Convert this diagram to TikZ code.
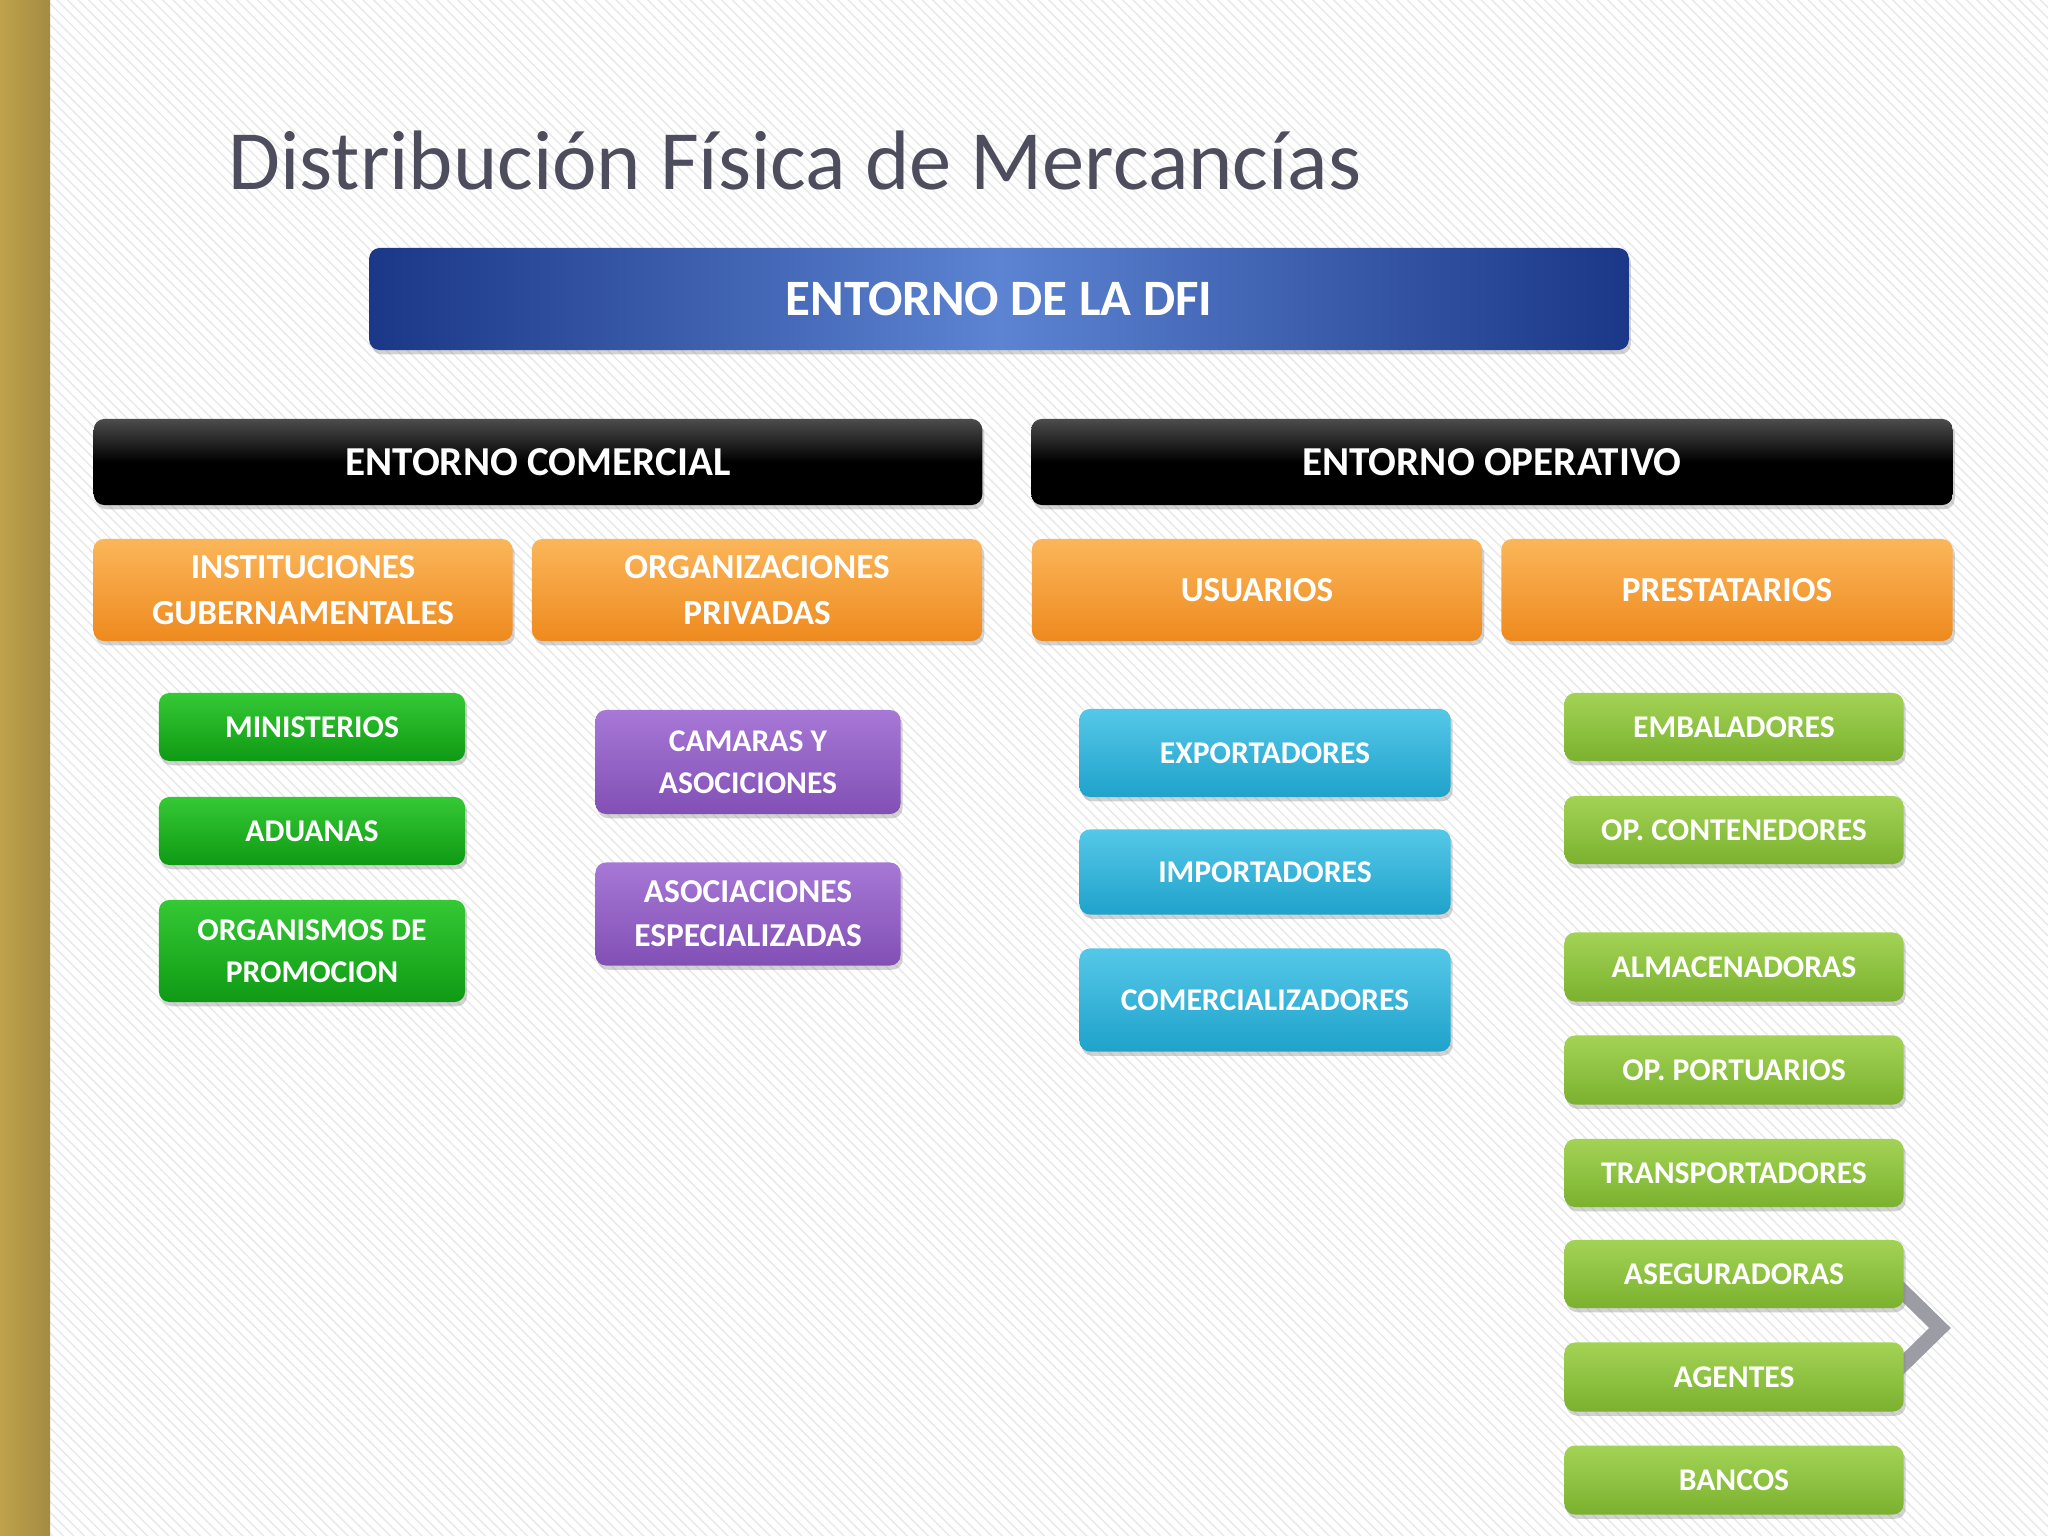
\documentclass[tikz,border=0pt]{standalone}
\usepackage{fontspec}
\setmainfont{Carlito}
\usetikzlibrary{shadows,patterns}

\definecolor{titlegray}{HTML}{4D4D5E}
\definecolor{goldleft}{HTML}{BFA24A}
\definecolor{goldlight}{HTML}{E2C465}
\definecolor{goldright}{HTML}{A38B43}
\definecolor{navy}{HTML}{1B3787}
\definecolor{skyblue}{HTML}{5C84D2}
\definecolor{chevgray}{HTML}{9C9CA4}

\begin{document}
\begin{tikzpicture}[x=0.01cm, y=-0.01cm,
	box/.style={rounded corners=3pt, text=white, align=center, inner sep=0pt,
		font=\bfseries\fontsize{9}{12}\selectfont,
		drop shadow={shadow xshift=0.6pt, shadow yshift=-1.2pt, opacity=0.35}},
	bluebox/.style={box, left color=navy, right color=navy, middle color=skyblue,
		font=\bfseries\fontsize{14.5}{17}\selectfont},
	blackbox/.style={box, top color=black!70, bottom color=black, middle color=black,
		font=\bfseries\fontsize{11.7}{14}\selectfont},
	orangebox/.style={box, top color={rgb,255:red,251;green,182;blue,90}, bottom color={rgb,255:red,238;green,138;blue,30},
		font=\bfseries\fontsize{10}{13}\selectfont},
	greenbox/.style={box, top color={rgb,255:red,53;green,201;blue,53}, bottom color={rgb,255:red,15;green,154;blue,20}},
	purplebox/.style={box, top color={rgb,255:red,167;green,120;blue,214}, bottom color={rgb,255:red,130;green,80;blue,181}},
	cyanbox/.style={box, top color={rgb,255:red,85;green,200;blue,232}, bottom color={rgb,255:red,31;green,162;blue,203}},
	limebox/.style={box, top color={rgb,255:red,163;green,211;blue,85}, bottom color={rgb,255:red,123;green,177;blue,47}},
]
	\useasboundingbox (0,0) rectangle (2048,1536);

	% Slide background
	\fill[white] (0,0) rectangle (2048,1536);
	\fill[pattern=north west lines, pattern color=black!9] (50,0) rectangle (2048,1536);
	\shade[left color=goldleft, middle color=goldlight, right color=goldright] (0,0) rectangle (50,1536);

	% Title
	\node[anchor=base west, text=titlegray, font=\fontsize{24}{28}\selectfont] (title) at (216,189) {Distribución Física de Mercancías};

	% Next slide chevron
	\draw[line width=4.3pt, chevgray] (1893,1282) -- (1940,1328) -- (1893,1374);

	% Entorno de la DFI
	\node[bluebox, minimum width=12.59cm, minimum height=1.02cm] (dfi) at (999,299) {ENTORNO DE LA DFI};

	% Entorno comercial
	\node[blackbox, minimum width=8.88cm, minimum height=0.86cm] (comercial) at (538,462) {ENTORNO COMERCIAL};
	\node[orangebox, minimum width=4.19cm, minimum height=1.02cm] (instituciones) at (303,590) {INSTITUCIONES\\GUBERNAMENTALES};
	\node[orangebox, minimum width=4.50cm, minimum height=1.02cm] (organizaciones) at (757,590) {ORGANIZACIONES\\PRIVADAS};
	\node[greenbox, minimum width=3.06cm, minimum height=0.68cm] (ministerios) at (312,727) {MINISTERIOS};
	\node[greenbox, minimum width=3.06cm, minimum height=0.68cm] (aduanas) at (312,831) {ADUANAS};
	\node[greenbox, minimum width=3.06cm, minimum height=1.02cm] (organismos) at (312,951) {ORGANISMOS DE\\PROMOCION};
	\node[purplebox, minimum width=3.05cm, minimum height=1.04cm] (camaras) at (748,762) {CAMARAS Y\\ASOCICIONES};
	\node[purplebox, minimum width=3.05cm, minimum height=1.03cm, font=\bfseries\fontsize{9.5}{12.5}\selectfont] (asociaciones) at (748,914) {ASOCIACIONES\\ESPECIALIZADAS};

	% Entorno operativo
	\node[blackbox, minimum width=9.21cm, minimum height=0.86cm] (operativo) at (1492,462) {ENTORNO OPERATIVO};
	\node[orangebox, minimum width=4.50cm, minimum height=1.02cm] (usuarios) at (1257,590) {USUARIOS};
	\node[orangebox, minimum width=4.51cm, minimum height=1.02cm] (prestatarios) at (1727,590) {PRESTATARIOS};
	\node[cyanbox, minimum width=3.71cm, minimum height=0.88cm] (exportadores) at (1265,753) {EXPORTADORES};
	\node[cyanbox, minimum width=3.71cm, minimum height=0.85cm] (importadores) at (1265,872) {IMPORTADORES};
	\node[cyanbox, minimum width=3.71cm, minimum height=1.03cm] (comercializadores) at (1265,1000) {COMERCIALIZADORES};
	\node[limebox, minimum width=3.39cm, minimum height=0.68cm] (embaladores) at (1734,727) {EMBALADORES};
	\node[limebox, minimum width=3.39cm, minimum height=0.68cm] (contenedores) at (1734,830) {OP. CONTENEDORES};
	\node[limebox, minimum width=3.39cm, minimum height=0.69cm] (almacenadoras) at (1734,967) {ALMACENADORAS};
	\node[limebox, minimum width=3.39cm, minimum height=0.69cm] (portuarios) at (1734,1070) {OP. PORTUARIOS};
	\node[limebox, minimum width=3.39cm, minimum height=0.68cm] (transportadores) at (1734,1173) {TRANSPORTADORES};
	\node[limebox, minimum width=3.39cm, minimum height=0.68cm] (aseguradoras) at (1734,1274) {ASEGURADORAS};
	\node[limebox, minimum width=3.39cm, minimum height=0.69cm] (agentes) at (1734,1377) {AGENTES};
	\node[limebox, minimum width=3.39cm, minimum height=0.69cm] (bancos) at (1734,1480) {BANCOS};
\end{tikzpicture}
\end{document}
